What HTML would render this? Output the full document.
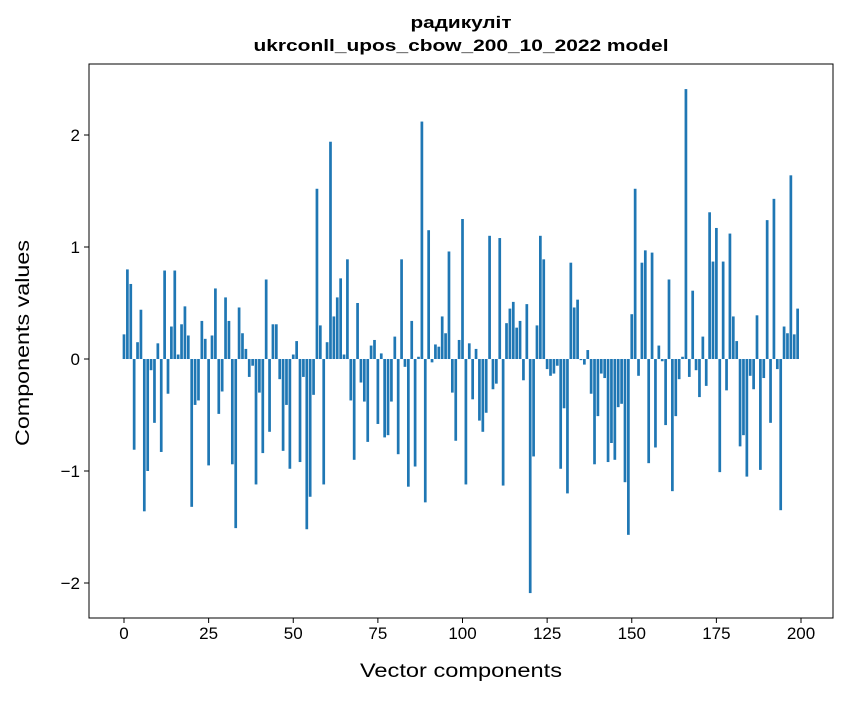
<!DOCTYPE html>
<html><head><meta charset="utf-8"><style>
html,body{margin:0;padding:0;background:#fff}
svg text{font-family:"Liberation Sans","DejaVu Sans",sans-serif;fill:#000}
</style></head><body>
<svg id="chart" width="847" height="696" viewBox="0 0 847 696" xmlns="http://www.w3.org/2000/svg">
<rect width="847" height="696" fill="#fff"/>
<text x="461" y="28" text-anchor="middle" font-size="17" font-weight="bold" textLength="101" lengthAdjust="spacingAndGlyphs">радикуліт</text>
<text x="461" y="51" text-anchor="middle" font-size="17" font-weight="bold" textLength="415" lengthAdjust="spacingAndGlyphs">ukrconll_upos_cbow_200_10_2022 model</text>
<g id="bars"></g>
<g id="xticks"></g>
<g id="yticks"></g>
<rect x="89" y="64" width="744" height="554" fill="none" stroke="#000" stroke-width="1"/>
<text x="461" y="677" text-anchor="middle" font-size="19" textLength="202" lengthAdjust="spacingAndGlyphs">Vector components</text>
<text transform="translate(29,343) rotate(-90)" text-anchor="middle" font-size="19" textLength="206" lengthAdjust="spacingAndGlyphs">Components values</text>
</svg>
<script>
const values = [0.22,0.80,0.67,-0.81,0.15,0.44,-1.36,-1.0,-0.10,-0.57,0.14,-0.83,0.79,-0.31,0.29,0.79,0.04,0.31,0.47,0.21,
-1.32,-0.41,-0.37,0.34,0.18,-0.95,0.21,0.63,-0.49,-0.29,0.55,0.34,-0.94,-1.51,0.46,0.23,0.09,-0.16,-0.06,-1.12,
-0.30,-0.84,0.71,-0.65,0.31,0.31,-0.18,-0.82,-0.41,-0.98,0.04,0.16,-0.92,-0.16,-1.52,-1.23,-0.32,1.52,0.30,-1.12,
0.15,1.94,0.38,0.55,0.72,0.04,0.89,-0.37,-0.90,0.50,-0.21,-0.38,-0.74,0.12,0.17,-0.58,0.05,-0.70,-0.68,-0.38,
0.20,-0.85,0.89,-0.07,-1.14,0.34,-0.96,0.02,2.12,-1.28,1.15,-0.03,0.13,0.11,0.38,0.23,0.96,-0.30,-0.73,0.17,
1.25,-1.12,0.14,-0.36,0.09,-0.55,-0.65,-0.48,1.10,-0.27,-0.22,1.08,-1.13,0.32,0.45,0.51,0.28,0.34,-0.19,0.49,
-2.09,-0.87,0.30,1.10,0.89,-0.09,-0.15,-0.13,-0.06,-0.98,-0.44,-1.20,0.86,0.46,0.53,-0.01,-0.05,0.08,-0.31,-0.94,
-0.51,-0.13,-0.17,-0.92,-0.75,-0.90,-0.43,-0.40,-1.10,-1.57,0.40,1.52,-0.15,0.86,0.97,-0.93,0.95,-0.79,0.12,-0.02,
-0.59,0.71,-1.18,-0.51,-0.18,0.02,2.41,-0.16,0.61,-0.10,-0.34,0.20,-0.24,1.31,0.87,1.17,-1.01,0.87,-0.28,1.12,
0.38,0.16,-0.78,-0.68,-1.05,-0.15,-0.27,0.39,-0.99,-0.17,1.24,-0.57,1.43,-0.09,-1.35,0.29,0.23,1.64,0.22,0.45];
const xTickValues = [0,25,50,75,100,125,150,175,200];
const yTickValues = [-2,-1,0,1,2];
const yTickLabels = ["\u22122","\u22121","0","1","2"];

const NS="http://www.w3.org/2000/svg";
const X0=89,X1=833,Y0=64,Y1=618;
const xMin=-10.34,xMax=209.45,yMin=-2.3125,yMax=2.634;
function xs(v){return X0+(v-xMin)/(xMax-xMin)*(X1-X0);}
function ys(v){return Y1-(v-yMin)/(yMax-yMin)*(Y1-Y0);}
const bars=document.getElementById('bars');
values.forEach((v,i)=>{
  const r=document.createElementNS(NS,'rect');
  
  
  const xl=xs(i-0.4), xr=xs(i+0.4);
  const y0=ys(0), yv=ys(v);
  r.setAttribute('x',xl);r.setAttribute('width',xr-xl);
  r.setAttribute('y',Math.min(y0,yv));r.setAttribute('height',Math.abs(yv-y0));
  r.setAttribute('fill','#1f77b4');
  bars.appendChild(r);
});
const xg=document.getElementById('xticks');
xTickValues.forEach(t=>{
  const x=xs(t);
  const l=document.createElementNS(NS,'line');
  
  
  l.setAttribute('x1',x);l.setAttribute('x2',x);l.setAttribute('y1',Y1);l.setAttribute('y2',Y1+5);
  l.setAttribute('stroke','#000');
  xg.appendChild(l);
  const tx=document.createElementNS(NS,'text');
  
  
  tx.setAttribute('x',x);tx.setAttribute('y',Y1+21);tx.setAttribute('text-anchor','middle');tx.setAttribute('font-size','17');
  tx.textContent=String(t);
  xg.appendChild(tx);
});
const yg=document.getElementById('yticks');
yTickValues.forEach((t,i)=>{
  const y=ys(t);
  const l=document.createElementNS(NS,'line');
  
  
  l.setAttribute('x1',X0-5);l.setAttribute('x2',X0);l.setAttribute('y1',y);l.setAttribute('y2',y);
  l.setAttribute('stroke','#000');
  yg.appendChild(l);
  const tx=document.createElementNS(NS,'text');
  
  
  tx.setAttribute('x',X0-9);tx.setAttribute('y',y+6);tx.setAttribute('text-anchor','end');tx.setAttribute('font-size','17');
  tx.textContent=yTickLabels[i];
  yg.appendChild(tx);
});
</script>
</body></html>
